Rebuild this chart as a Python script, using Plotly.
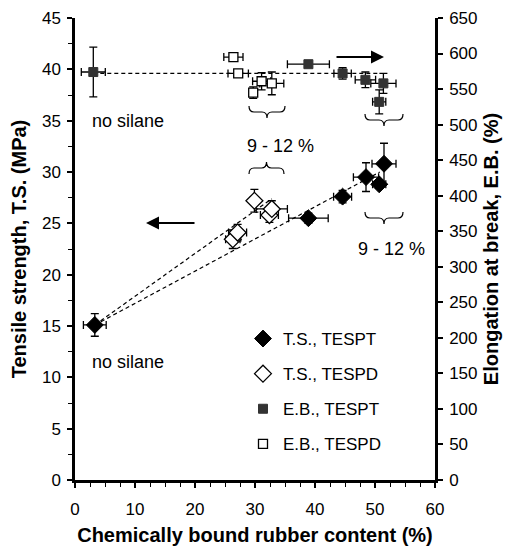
import plotly.graph_objects as go

# ---------------- data ----------------
ts_tespt_x = [3.3, 38.9, 44.6, 48.5, 50.7, 51.5]
ts_tespt_y = [15.1, 25.5, 27.6, 29.5, 28.8, 30.8]
ts_tespt_xerr = [1.9, 3.3, 1.5, 2.1, 1.1, 2.0]
ts_tespt_yerr = [1.1, 0.5, 0.6, 1.4, 0.4, 2.0]

ts_tespd_x = [26.3, 27.1, 29.9, 32.4, 32.8]
ts_tespd_y = [23.45, 24.1, 27.2, 25.8, 26.4]
ts_tespd_xerr = [1.2, 1.5, 0.7, 1.5, 2.6]
ts_tespd_yerr = [0.9, 0.8, 1.1, 0.7, 0.8]

eb_tespt_x = [3.05, 38.9, 44.6, 48.4, 50.7, 51.4]
eb_tespt_y = [574, 585, 572, 563, 532, 558]
eb_tespt_xerr = [2.0, 3.5, 1.45, 1.7, 1.1, 2.1]
eb_tespt_yerr = [35, 3, 8, 11, 17, 14]

eb_tespd_x = [26.4, 27.2, 29.7, 31.1, 32.8]
eb_tespd_y = [595, 572, 545, 561, 558]
eb_tespd_xerr = [1.6, 1.7, 0.6, 1.5, 2.0]
eb_tespd_yerr = [4, 4, 8, 12, 16]

# trend lines (end points)
fit_ts_tespt_x = [3.3, 50.8]
fit_ts_tespt_y = [15.1, 30.0]
fit_ts_tespd_x = [3.3, 32.8]
fit_ts_tespd_y = [15.1, 27.4]
fit_eb_x = [3.05, 50.5]
fit_eb_y = [572, 572]

FONT = "Liberation Sans, Arial, sans-serif"

fig = go.Figure()

def err(v, w=4):
    return dict(type="data", array=v, visible=True, color="black", thickness=1.3, width=w)

dash = dict(color="black", width=1.2, dash="4px,3px")
fig.add_trace(go.Scatter(x=fit_ts_tespt_x, y=fit_ts_tespt_y, mode="lines", line=dash, showlegend=False, hoverinfo="skip"))
fig.add_trace(go.Scatter(x=fit_ts_tespd_x, y=fit_ts_tespd_y, mode="lines", line=dash, showlegend=False, hoverinfo="skip"))
fig.add_trace(go.Scatter(x=fit_eb_x, y=fit_eb_y, mode="lines", line=dash, showlegend=False, hoverinfo="skip", yaxis="y2"))

fig.add_trace(go.Scatter(x=ts_tespt_x, y=ts_tespt_y, mode="markers", name="T.S., TESPT",
                         marker=dict(symbol="diamond", size=13, color="black", line=dict(color="black", width=1)),
                         error_x=err(ts_tespt_xerr), error_y=err(ts_tespt_yerr), legendgroup="a"))
fig.add_trace(go.Scatter(x=ts_tespd_x, y=ts_tespd_y, mode="markers", name="T.S., TESPD",
                         marker=dict(symbol="diamond", size=13, color="white", line=dict(color="black", width=1.3)),
                         error_x=err(ts_tespd_xerr), error_y=err(ts_tespd_yerr), legendgroup="b"))
fig.add_trace(go.Scatter(x=eb_tespt_x, y=eb_tespt_y, mode="markers", name="E.B., TESPT", yaxis="y2",
                         marker=dict(symbol="square", size=9, color="#333333", line=dict(color="#333333", width=1)),
                         error_x=err(eb_tespt_xerr), error_y=err(eb_tespt_yerr), legendgroup="c"))
fig.add_trace(go.Scatter(x=eb_tespd_x, y=eb_tespd_y, mode="markers", name="E.B., TESPD", yaxis="y2",
                         marker=dict(symbol="square", size=9, color="white", line=dict(color="black", width=1.3)),
                         error_x=err(eb_tespd_xerr), error_y=err(eb_tespd_yerr), legendgroup="d"))

# pixel helpers for decorations (plot area 75..435 x, 18..480 y)
def px2x(p):
    return (p - 75) / 6.0
def px2y(p):
    return (480 - p) / (462 / 45.0)

def brace(x0, x1, yb, tip_down=True, h=6, r=5):
    s = 1 if tip_down else -1
    xc = (x0 + x1) / 2
    pts = [("M", [(x0, yb - s * h)]),
           ("Q", [(x0, yb), (x0 + r, yb)]),
           ("L", [(xc - r, yb)]),
           ("Q", [(xc, yb), (xc, yb + s * h)]),
           ("Q", [(xc, yb), (xc + r, yb)]),
           ("L", [(x1 - r, yb)]),
           ("Q", [(x1, yb), (x1, yb - s * h)])]
    out = ""
    for cmd, ps in pts:
        out += cmd + " ".join(f"{px2x(a):.4f},{px2y(b):.4f}" for a, b in ps) + " "
    return out.strip()

shapes = []
for (a, b, y, td) in [(249, 285, 112, True), (249, 284, 168, False), (365, 403, 120, True), (365, 403, 218, True)]:
    shapes.append(dict(type="path", path=brace(a, b, y, td), xref="x", yref="y",
                       line=dict(color="black", width=1.2)))

ann_font = dict(family=FONT, size=18, color="black")
annotations = [
    dict(x=px2x(128), y=px2y(121), text="no silane", showarrow=False, font=ann_font, xref="x", yref="y"),
    dict(x=px2x(128), y=px2y(362), text="no silane", showarrow=False, font=ann_font, xref="x", yref="y"),
    dict(x=px2x(280), y=px2y(146), text="9 - 12 %", showarrow=False, font=ann_font, xref="x", yref="y"),
    dict(x=px2x(391), y=px2y(249), text="9 - 12 %", showarrow=False, font=ann_font, xref="x", yref="y"),
    dict(x=px2x(146), y=px2y(223), ax=px2x(196), ay=px2y(223), xref="x", yref="y", axref="x", ayref="y",
         text="", showarrow=True, arrowhead=2, arrowsize=1.3, arrowwidth=2, arrowcolor="black"),
    dict(x=px2x(384), y=px2y(57), ax=px2x(335), ay=px2y(57), xref="x", yref="y", axref="x", ayref="y",
         text="", showarrow=True, arrowhead=2, arrowsize=1.3, arrowwidth=2, arrowcolor="black"),
]

tickfont = dict(family=FONT, size=17, color="black")
titlefont = dict(family=FONT, size=20, color="black", weight="bold")
fig.update_layout(
    width=513, height=548,
    margin=dict(l=75, r=78, t=18, b=68, autoexpand=False),
    paper_bgcolor="white", plot_bgcolor="white",
    font=dict(family=FONT, color="black"),
    shapes=shapes, annotations=annotations,
    xaxis=dict(range=[0, 60], dtick=10, showline=True, linecolor="black", linewidth=2.5, automargin=False,
               ticks="outside", ticklen=5, tickwidth=1.5, tickcolor="black", ticklabelstandoff=7,
               minor=dict(dtick=2.5, ticks="outside", ticklen=4, tickcolor="black", tickwidth=1.2),
               showgrid=False, zeroline=False, tickfont=tickfont,
               title=dict(text="Chemically bound rubber content (%)", font=titlefont, standoff=10)),
    yaxis=dict(range=[0, 45], dtick=5, showline=True, linecolor="black", linewidth=2.5, automargin=False,
               ticks="outside", ticklen=5, tickwidth=1.5, tickcolor="black", ticklabelstandoff=3,
               minor=dict(dtick=2.5, ticks="outside", ticklen=4, tickcolor="black", tickwidth=1.2),
               showgrid=False, zeroline=False, tickfont=tickfont,
               title=dict(text="Tensile strength, T.S. (MPa)", font=titlefont, standoff=10)),
    yaxis2=dict(range=[0, 650], dtick=50, overlaying="y", side="right", showline=True, linecolor="black",
                linewidth=2.5, ticks="outside", ticklen=5, tickwidth=1.5, tickcolor="black", ticklabelstandoff=3,
                showgrid=False, zeroline=False, tickfont=tickfont, automargin=False,
                title=dict(text="Elongation at break, E.B. (%)", font=titlefont, standoff=8)),
    legend=dict(x=(243 - 75) / 360, y=px2y(321) / 45, xanchor="left", yanchor="top", bgcolor="rgba(0,0,0,0)",
                font=dict(family=FONT, size=17, color="black"), tracegroupgap=10, itemwidth=30),
    showlegend=True,
)

fig.write_html("out.html")
